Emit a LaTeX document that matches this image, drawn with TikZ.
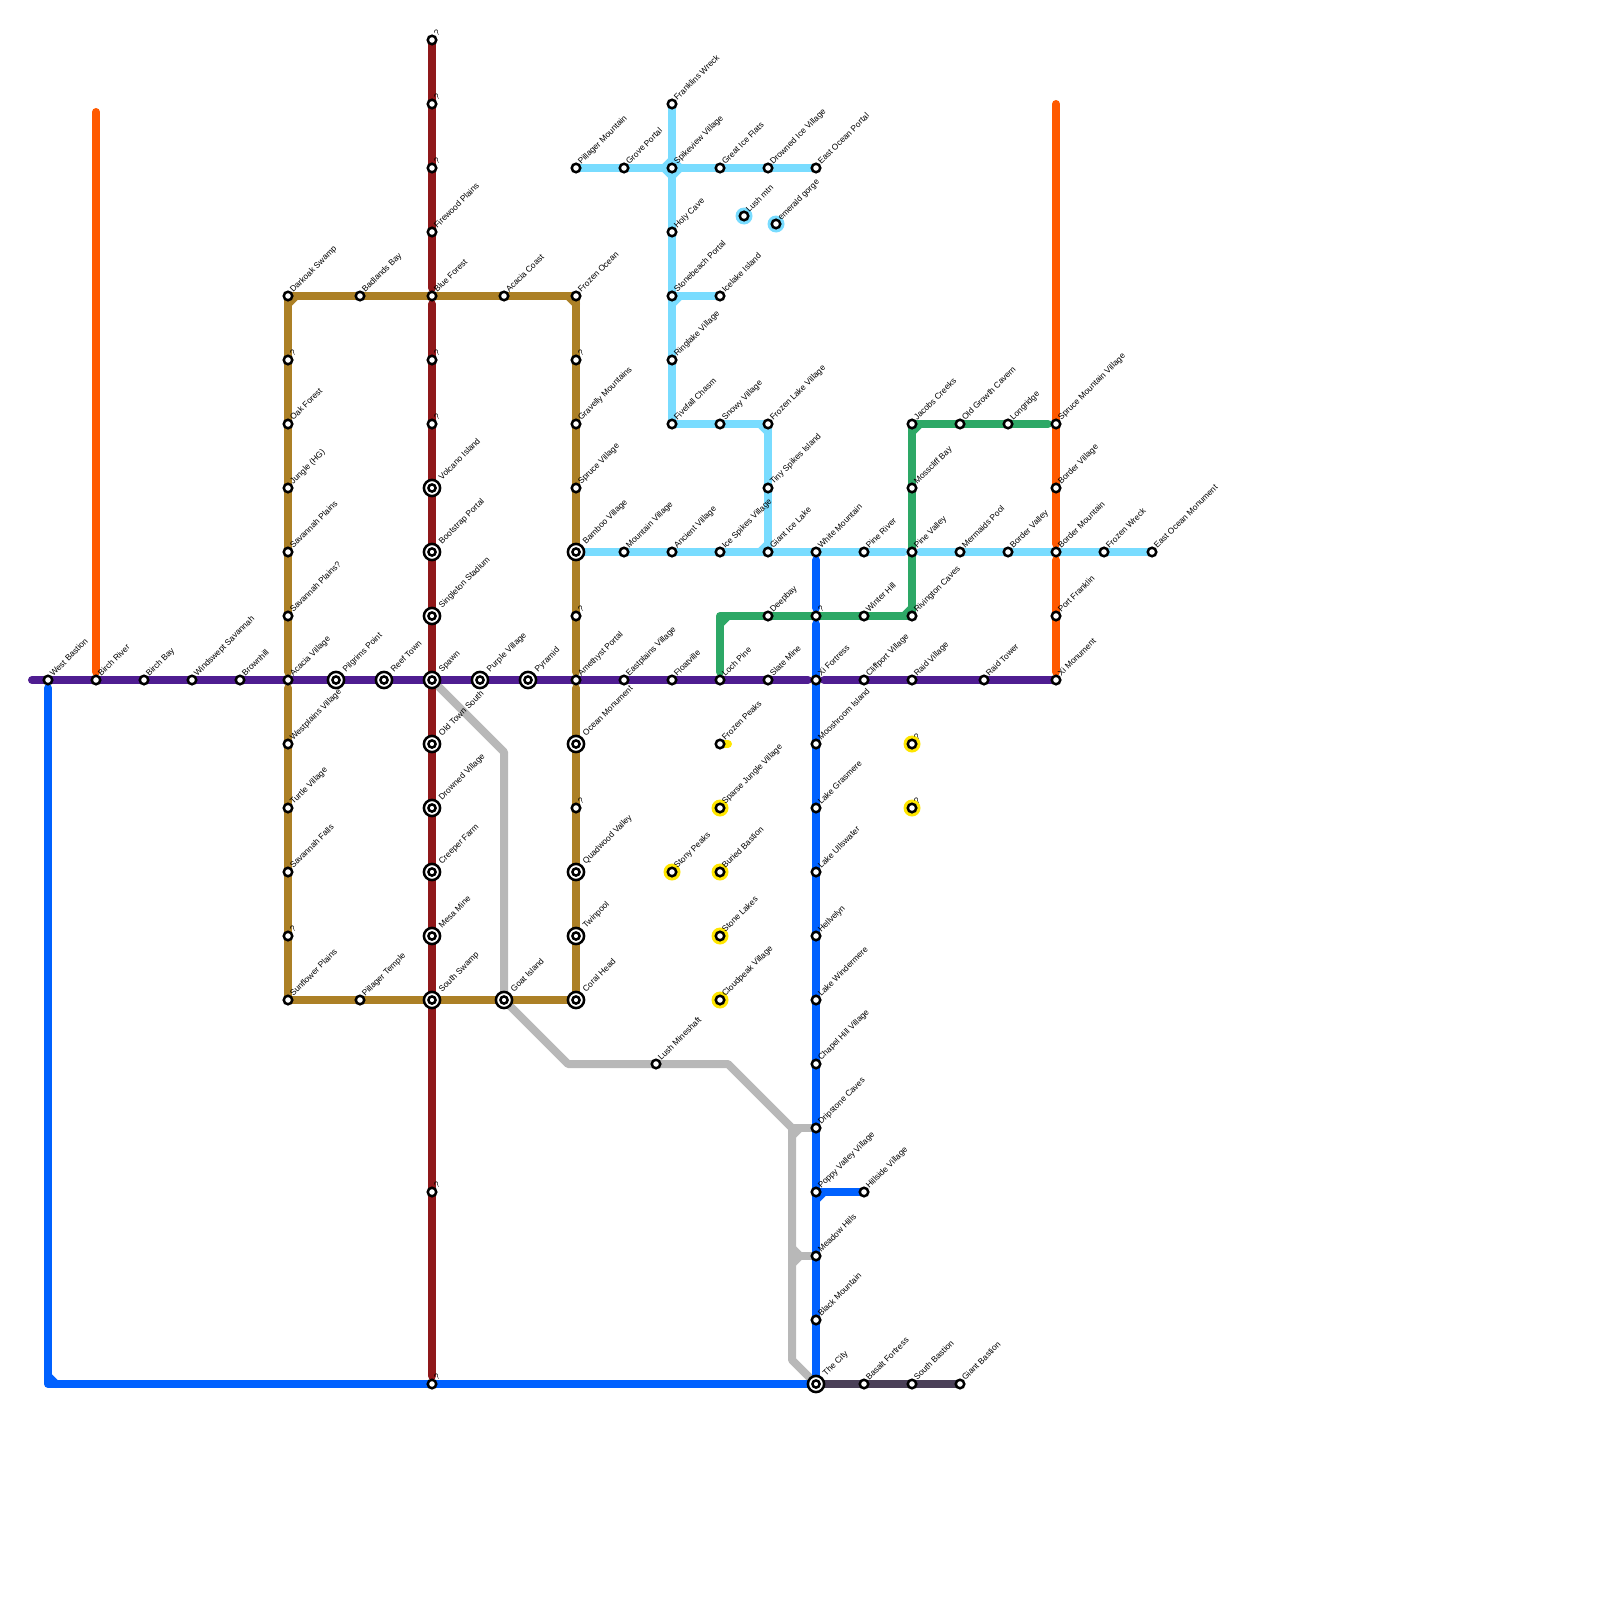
\documentclass[tikz,border=0pt]{standalone}
\usepackage{fontspec}
\setmainfont{Liberation Sans}
\usetikzlibrary{backgrounds}

\definecolor{lnpurple}{RGB}{79,29,145}
\definecolor{lnbrown}{RGB}{172,128,38}
\definecolor{lnred}{RGB}{143,24,26}
\definecolor{lngray}{RGB}{184,184,184}
\definecolor{lnblue}{RGB}{0,97,255}
\definecolor{lnice}{RGB}{121,220,255}
\definecolor{lnorange}{RGB}{255,90,0}
\definecolor{lngreen}{RGB}{45,168,102}
\definecolor{lnyellow}{RGB}{255,230,0}
\definecolor{lnslate}{RGB}{74,64,88}

\tikzset{
  metro/.style={line width=8pt, line cap=round, line join=round},
  stn/.style={circle, draw=black, fill=white, line width=2.5pt, inner sep=0pt, minimum size=8.5pt},
  hub/.style={stn, minimum size=16.2pt, path picture={\draw[line width=2.5pt] (path picture bounding box.center) circle (3.6pt);}},
  stnlab/.style={font=\fontsize{8.4}{10}\selectfont, inner sep=0pt, anchor=base west, xshift=5.3pt, yshift=3pt, rotate=45},
  hublab/.style={font=\fontsize{8.4}{10}\selectfont, inner sep=0pt, anchor=base west, xshift=10pt, yshift=7.5pt, rotate=45}
}

\begin{document}
\begin{tikzpicture}[x=1pt, y=-1pt]
\useasboundingbox (0,0) rectangle (1600,1600);

% red line
\node[stn] (red1) at (432,40) {}; \node[stnlab] (red1t) at (red1) {?};
\node[stn] (red2) at (432,104) {}; \node[stnlab] (red2t) at (red2) {?};
\node[stn] (red3) at (432,168) {}; \node[stnlab] (red3t) at (red3) {?};
\node[stn] (firewood) at (432,232) {}; \node[stnlab] (firewoodt) at (firewood) {Firewood Plains};
\node[stn] (blueforest) at (432,296) {}; \node[stnlab] (blueforestt) at (blueforest) {Blue Forest};
\node[stn] (red4) at (432,360) {}; \node[stnlab] (red4t) at (red4) {?};
\node[stn] (red5) at (432,424) {}; \node[stnlab] (red5t) at (red5) {?};
\node[hub] (volcano) at (432,488) {}; \node[hublab] (volcanot) at (volcano) {Volcano Island};
\node[hub] (bootstrap) at (432,552) {}; \node[hublab] (bootstrapt) at (bootstrap) {Bootstrap Portal};
\node[hub] (singleton) at (432,616) {}; \node[hublab] (singletont) at (singleton) {Singleton Stadium};
\node[hub] (spawn) at (432,680) {}; \node[hublab] (spawnt) at (spawn) {Spawn};
\node[hub] (oldtown) at (432,744) {}; \node[hublab] (oldtownt) at (oldtown) {Old Town South};
\node[hub] (drowned) at (432,808) {}; \node[hublab] (drownedt) at (drowned) {Drowned Village};
\node[hub] (creeper) at (432,872) {}; \node[hublab] (creepert) at (creeper) {Creeper Farm};
\node[hub] (mesa) at (432,936) {}; \node[hublab] (mesat) at (mesa) {Mesa Mine};
\node[hub] (southswamp) at (432,1000) {}; \node[hublab] (southswampt) at (southswamp) {South Swamp};
\node[stn] (red6) at (432,1192) {}; \node[stnlab] (red6t) at (red6) {?};
\node[stn] (red7) at (432,1384) {}; \node[stnlab] (red7t) at (red7) {?};

% brown loop
\node[stn] (darkoak) at (288,296) {}; \node[stnlab] (darkoakt) at (darkoak) {Darkoak Swamp};
\node[stn] (brn1) at (288,360) {}; \node[stnlab] (brn1t) at (brn1) {?};
\node[stn] (oak) at (288,424) {}; \node[stnlab] (oakt) at (oak) {Oak Forest};
\node[stn] (jungle) at (288,488) {}; \node[stnlab] (junglet) at (jungle) {Jungle (HG)};
\node[stn] (savplains) at (288,552) {}; \node[stnlab] (savplainst) at (savplains) {Savannah Plains};
\node[stn] (savplainsq) at (288,616) {}; \node[stnlab] (savplainsqt) at (savplainsq) {Savannah Plains?};
\node[stn] (acacia) at (288,680) {}; \node[stnlab] (acaciat) at (acacia) {Acacia Village};
\node[stn] (westplains) at (288,744) {}; \node[stnlab] (westplainst) at (westplains) {Westplains Village};
\node[stn] (turtle) at (288,808) {}; \node[stnlab] (turtlet) at (turtle) {Turtle Village};
\node[stn] (savfalls) at (288,872) {}; \node[stnlab] (savfallst) at (savfalls) {Savannah Falls};
\node[stn] (brn2) at (288,936) {}; \node[stnlab] (brn2t) at (brn2) {?};
\node[stn] (sunflower) at (288,1000) {}; \node[stnlab] (sunflowert) at (sunflower) {Sunflower Plains};
\node[stn] (badlands) at (360,296) {}; \node[stnlab] (badlandst) at (badlands) {Badlands Bay};
\node[stn] (acaciacoast) at (504,296) {}; \node[stnlab] (acaciacoastt) at (acaciacoast) {Acacia Coast};
\node[stn] (frozenocean) at (576,296) {}; \node[stnlab] (frozenoceant) at (frozenocean) {Frozen Ocean};
\node[stn] (brn3) at (576,360) {}; \node[stnlab] (brn3t) at (brn3) {?};
\node[stn] (gravelly) at (576,424) {}; \node[stnlab] (gravellyt) at (gravelly) {Gravelly Mountains};
\node[stn] (spruce) at (576,488) {}; \node[stnlab] (sprucet) at (spruce) {Spruce Village};
\node[hub] (bamboo) at (576,552) {}; \node[hublab] (bamboot) at (bamboo) {Bamboo Village};
\node[stn] (brn4) at (576,616) {}; \node[stnlab] (brn4t) at (brn4) {?};
\node[stn] (amethyst) at (576,680) {}; \node[stnlab] (amethystt) at (amethyst) {Amethyst Portal};
\node[hub] (oceanmon) at (576,744) {}; \node[hublab] (oceanmont) at (oceanmon) {Ocean Monument};
\node[stn] (brn5) at (576,808) {}; \node[stnlab] (brn5t) at (brn5) {?};
\node[hub] (quadwood) at (576,872) {}; \node[hublab] (quadwoodt) at (quadwood) {Quadwood Valley};
\node[hub] (twinpool) at (576,936) {}; \node[hublab] (twinpoolt) at (twinpool) {Twinpool};
\node[hub] (coralhead) at (576,1000) {}; \node[hublab] (coralheadt) at (coralhead) {Coral Head};
\node[stn] (pillagertemple) at (360,1000) {}; \node[stnlab] (pillagertemplet) at (pillagertemple) {Pillager Temple};
\node[hub] (goat) at (504,1000) {}; \node[hublab] (goatt) at (goat) {Goat Island};

% purple line
\node[stn] (westbastion) at (48,680) {}; \node[stnlab] (westbastiont) at (westbastion) {West Bastion};
\node[stn] (birchriver) at (96,680) {}; \node[stnlab] (birchrivert) at (birchriver) {Birch River};
\node[stn] (birchbay) at (144,680) {}; \node[stnlab] (birchbayt) at (birchbay) {Birch Bay};
\node[stn] (windswept) at (192,680) {}; \node[stnlab] (windsweptt) at (windswept) {Windswept Savannah};
\node[stn] (brownhill) at (240,680) {}; \node[stnlab] (brownhillt) at (brownhill) {Brownhill};
\node[hub] (pilgrims) at (336,680) {}; \node[hublab] (pilgrimst) at (pilgrims) {Pilgrims Point};
\node[hub] (reeftown) at (384,680) {}; \node[hublab] (reeftownt) at (reeftown) {Reef Town};
\node[hub] (purplevillage) at (480,680) {}; \node[hublab] (purplevillaget) at (purplevillage) {Purple Village};
\node[hub] (pyramid) at (528,680) {}; \node[hublab] (pyramidt) at (pyramid) {Pyramid};
\node[stn] (eastplains) at (624,680) {}; \node[stnlab] (eastplainst) at (eastplains) {Eastplains Village};
\node[stn] (floatville) at (672,680) {}; \node[stnlab] (floatvillet) at (floatville) {Floatville};
\node[stn] (lochpine) at (720,680) {}; \node[stnlab] (lochpinet) at (lochpine) {Loch Pine};
\node[stn] (slatemine) at (768,680) {}; \node[stnlab] (slateminet) at (slatemine) {Slate Mine};
\node[stn] (xifortress) at (816,680) {}; \node[stnlab] (xifortresst) at (xifortress) {Xi Fortress};
\node[stn] (cliffport) at (864,680) {}; \node[stnlab] (cliffportt) at (cliffport) {Cliffport Village};
\node[stn] (raidvillage) at (912,680) {}; \node[stnlab] (raidvillaget) at (raidvillage) {Raid Village};
\node[stn] (raidtower) at (984,680) {}; \node[stnlab] (raidtowert) at (raidtower) {Raid Tower};
\node[stn] (ximonument) at (1056,680) {}; \node[stnlab] (ximonumentt) at (ximonument) {Xi Monument};

% ice line
\node[stn] (pillagermtn) at (576,168) {}; \node[stnlab] (pillagermtnt) at (pillagermtn) {Pillager Mountain};
\node[stn] (grove) at (624,168) {}; \node[stnlab] (grovet) at (grove) {Grove Portal};
\node[stn] (spikeview) at (672,168) {}; \node[stnlab] (spikeviewt) at (spikeview) {Spikeview Village};
\node[stn] (greatice) at (720,168) {}; \node[stnlab] (greaticet) at (greatice) {Great Ice Flats};
\node[stn] (drownedice) at (768,168) {}; \node[stnlab] (drownedicet) at (drownedice) {Drowned Ice Village};
\node[stn] (eastportal) at (816,168) {}; \node[stnlab] (eastportalt) at (eastportal) {East Ocean Portal};
\node[stn] (franklins) at (672,104) {}; \node[stnlab] (franklinst) at (franklins) {Franklins Wreck};
\node[stn] (holycave) at (672,232) {}; \node[stnlab] (holycavet) at (holycave) {Holy Cave};
\node[stn] (stonebeach) at (672,296) {}; \node[stnlab] (stonebeacht) at (stonebeach) {Stonebeach Portal};
\node[stn] (icelake) at (720,296) {}; \node[stnlab] (icelaket) at (icelake) {Icelake Island};
\node[stn] (ringlake) at (672,360) {}; \node[stnlab] (ringlaket) at (ringlake) {Ringlake Village};
\node[stn] (fivefall) at (672,424) {}; \node[stnlab] (fivefallt) at (fivefall) {Fivefall Chasm};
\node[stn] (snowy) at (720,424) {}; \node[stnlab] (snowyt) at (snowy) {Snowy Village};
\node[stn] (frozenlake) at (768,424) {}; \node[stnlab] (frozenlaket) at (frozenlake) {Frozen Lake Village};
\node[stn] (tinyspikes) at (768,488) {}; \node[stnlab] (tinyspikest) at (tinyspikes) {Tiny Spikes Island};
\node[stn] (mountainv) at (624,552) {}; \node[stnlab] (mountainvt) at (mountainv) {Mountain Village};
\node[stn] (ancient) at (672,552) {}; \node[stnlab] (ancientt) at (ancient) {Ancient Village};
\node[stn] (icespikes) at (720,552) {}; \node[stnlab] (icespikest) at (icespikes) {Ice Spikes Village};
\node[stn] (giantice) at (768,552) {}; \node[stnlab] (gianticet) at (giantice) {Giant Ice Lake};
\node[stn] (whitemtn) at (816,552) {}; \node[stnlab] (whitemtnt) at (whitemtn) {White Mountain};
\node[stn] (pineriver) at (864,552) {}; \node[stnlab] (pinerivert) at (pineriver) {Pine River};
\node[stn] (pinevalley) at (912,552) {}; \node[stnlab] (pinevalleyt) at (pinevalley) {Pine Valley};
\node[stn] (mermaids) at (960,552) {}; \node[stnlab] (mermaidst) at (mermaids) {Mermaids Pool};
\node[stn] (bordervalley) at (1008,552) {}; \node[stnlab] (bordervalleyt) at (bordervalley) {Border Valley};
\node[stn] (bordermtn) at (1056,552) {}; \node[stnlab] (bordermtnt) at (bordermtn) {Border Mountain};
\node[stn] (frozenwreck) at (1104,552) {}; \node[stnlab] (frozenwreckt) at (frozenwreck) {Frozen Wreck};
\node[stn] (eastmonument) at (1152,552) {}; \node[stnlab] (eastmonumentt) at (eastmonument) {East Ocean Monument};
\node[stn] (lushmtn) at (744,216) {}; \node[stnlab] (lushmtnt) at (lushmtn) {Lush mtn};
\node[stn] (emerald) at (776,224) {}; \node[stnlab] (emeraldt) at (emerald) {emerald gorge};

% green line
\node[stn] (jacobs) at (912,424) {}; \node[stnlab] (jacobst) at (jacobs) {Jacobs Creeks};
\node[stn] (oldgrowth) at (960,424) {}; \node[stnlab] (oldgrowtht) at (oldgrowth) {Old Growth Cavern};
\node[stn] (longridge) at (1008,424) {}; \node[stnlab] (longridget) at (longridge) {Longridge};
\node[stn] (sprucemtn) at (1056,424) {}; \node[stnlab] (sprucemtnt) at (sprucemtn) {Spruce Mountain Village};
\node[stn] (mosscliff) at (912,488) {}; \node[stnlab] (mossclifft) at (mosscliff) {Mosscliff Bay};
\node[stn] (rivington) at (912,616) {}; \node[stnlab] (rivingtont) at (rivington) {Rivington Caves};
\node[stn] (winterhill) at (864,616) {}; \node[stnlab] (winterhillt) at (winterhill) {Winter Hill};
\node[stn] (grn1) at (816,616) {}; \node[stnlab] (grn1t) at (grn1) {?};
\node[stn] (deepbay) at (768,616) {}; \node[stnlab] (deepbayt) at (deepbay) {Deepbay};

% orange line
\node[stn] (bordervillage) at (1056,488) {}; \node[stnlab] (bordervillaget) at (bordervillage) {Border Village};
\node[stn] (portfranklin) at (1056,616) {}; \node[stnlab] (portfranklint) at (portfranklin) {Port Franklin};

% blue line
\node[stn] (mooshroom) at (816,744) {}; \node[stnlab] (mooshroomt) at (mooshroom) {Mooshroom Island};
\node[stn] (grasmere) at (816,808) {}; \node[stnlab] (grasmeret) at (grasmere) {Lake Grasmere};
\node[stn] (ullswater) at (816,872) {}; \node[stnlab] (ullswatert) at (ullswater) {Lake Ullswater};
\node[stn] (hellvelyn) at (816,936) {}; \node[stnlab] (hellvelynt) at (hellvelyn) {Hellvelyn};
\node[stn] (windermere) at (816,1000) {}; \node[stnlab] (windermeret) at (windermere) {Lake Windermere};
\node[stn] (chapelhill) at (816,1064) {}; \node[stnlab] (chapelhillt) at (chapelhill) {Chapel Hill Village};
\node[stn] (dripstone) at (816,1128) {}; \node[stnlab] (dripstonet) at (dripstone) {Dripstone Caves};
\node[stn] (poppy) at (816,1192) {}; \node[stnlab] (poppyt) at (poppy) {Poppy Valley Village};
\node[stn] (hillside) at (864,1192) {}; \node[stnlab] (hillsidet) at (hillside) {Hillside Village};
\node[stn] (meadow) at (816,1256) {}; \node[stnlab] (meadowt) at (meadow) {Meadow Hills};
\node[stn] (blackmtn) at (816,1320) {}; \node[stnlab] (blackmtnt) at (blackmtn) {Black Mountain};
\node[hub] (thecity) at (816,1384) {}; \node[hublab] (thecityt) at (thecity) {The City};
\node[stn] (basalt) at (864,1384) {}; \node[stnlab] (basaltt) at (basalt) {Basalt Fortress};
\node[stn] (southbastion) at (912,1384) {}; \node[stnlab] (southbastiont) at (southbastion) {South Bastion};
\node[stn] (giantbastion) at (960,1384) {}; \node[stnlab] (giantbastiont) at (giantbastion) {Giant Bastion};
\node[stn] (lushmine) at (656,1064) {}; \node[stnlab] (lushminet) at (lushmine) {Lush Mineshaft};

% yellow stops
\node[stn] (frozenpeaks) at (720,744) {}; \node[stnlab] (frozenpeakst) at (frozenpeaks) {Frozen Peaks};
\node[stn] (sparse) at (720,808) {}; \node[stnlab] (sparset) at (sparse) {Sparse Jungle Village};
\node[stn] (buried) at (720,872) {}; \node[stnlab] (buriedt) at (buried) {Buried Bastion};
\node[stn] (stonelakes) at (720,936) {}; \node[stnlab] (stonelakest) at (stonelakes) {Stone Lakes};
\node[stn] (cloudpeak) at (720,1000) {}; \node[stnlab] (cloudpeakt) at (cloudpeak) {Cloudpeak Village};
\node[stn] (stony) at (672,872) {}; \node[stnlab] (stonyt) at (stony) {Stony Peaks};
\node[stn] (yel1) at (912,744) {}; \node[stnlab] (yel1t) at (yel1) {?};
\node[stn] (yel2) at (912,808) {}; \node[stnlab] (yel2t) at (yel2) {?};

\coordinate (purpleend) at (32,680);
\coordinate (orangetop) at (96,112);
\coordinate (orangetopb) at (1056,104);
\coordinate (bluecorner) at (48,1384);
\coordinate (grayA) at (504,752);
\coordinate (grayB) at (568,1064);
\coordinate (grayC) at (728,1064);
\coordinate (grayD) at (792,1128);
\coordinate (grayE) at (792,1360);
\coordinate (grayF) at (792,1256);
\coordinate (greencorner) at (720,616);
\coordinate (yellowend) at (728,744);

\begin{scope}[on background layer]
\draw[metro, lngray] (spawn.center)--(grayA)--(goat.center)--(grayB)--(grayC)--(grayD)--(grayE)--(thecity.center);
\draw[metro, lngray] (grayD)--(dripstone.center); \draw[metro, lngray] (grayF)--(meadow.center);
\draw[metro, lngray] ([yshift=-8pt]grayD)--([xshift=8pt]grayD);
\draw[metro, lngray] ([yshift=8pt]grayF)--([xshift=8pt]grayF)--([yshift=-8pt]grayF);

\draw[metro, lnblue, shorten <=8pt] (westbastion.center)--(bluecorner)--(thecity.center);
\draw[metro, lnblue] ([yshift=8pt]bluecorner)--([xshift=8pt]bluecorner);
\draw[metro, lnblue, shorten <=8pt, shorten >=8pt] (whitemtn.center)--(grn1.center);
\draw[metro, lnblue, shorten <=8pt] (grn1.center)--(thecity.center);
\draw[metro, lnblue] (poppy.center)--(hillside.center);
\draw[metro, lnblue] ([yshift=-8pt]poppy.center)--([xshift=8pt]poppy.center);

\draw[metro, lnred, shorten >=8pt] (red1.center)--(blueforest.center);
\draw[metro, lnred, shorten <=8pt, shorten >=8pt] (blueforest.center)--(red7.center);

\draw[metro, lnbrown, shorten >=8pt] (darkoak.center)--(acacia.center);
\draw[metro, lnbrown, shorten <=8pt] (acacia.center)--(sunflower.center)--(coralhead.center);
\draw[metro, lnbrown] (darkoak.center)--(frozenocean.center);
\draw[metro, lnbrown, shorten >=8pt] (frozenocean.center)--(amethyst.center);
\draw[metro, lnbrown, shorten <=8pt] (amethyst.center)--(coralhead.center);
\draw[metro, lnbrown] ([yshift=-8pt]darkoak.center)--([xshift=8pt]darkoak.center);
\draw[metro, lnbrown] ([xshift=-8pt]frozenocean.center)--([yshift=-8pt]frozenocean.center);

\draw[metro, lnorange, shorten >=8pt] (orangetop)--(birchriver.center);
\draw[metro, lnorange, shorten >=8pt] (orangetopb)--(bordermtn.center);
\draw[metro, lnorange, shorten <=8pt, shorten >=8pt] (bordermtn.center)--(ximonument.center);

\draw[metro, lngreen, shorten <=8pt, shorten >=8pt] (lochpine.center)--(greencorner)--(rivington.center)--(jacobs.center)--(sprucemtn.center);
\draw[metro, lngreen] ([yshift=-8pt]greencorner)--([xshift=8pt]greencorner);
\draw[metro, lngreen] ([xshift=-8pt]rivington.center)--([yshift=8pt]rivington.center);
\draw[metro, lngreen] ([yshift=-8pt]jacobs.center)--([xshift=8pt]jacobs.center);

\draw[metro, lnice] (franklins.center)--(fivefall.center)--(frozenlake.center)--(giantice.center);
\draw[metro, lnice] (pillagermtn.center)--(eastportal.center);
\draw[metro, lnice] (stonebeach.center)--(icelake.center);
\draw[metro, lnice, shorten >=8pt] (bamboo.center)--(pinevalley.center);
\draw[metro, lnice, shorten <=8pt] (pinevalley.center)--(eastmonument.center);
\draw[metro, lnice] ([xshift=-8pt]spikeview.center)--([yshift=8pt]spikeview.center)--([xshift=8pt]spikeview.center)--([yshift=-8pt]spikeview.center)--cycle;
\draw[metro, lnice] ([yshift=-8pt]stonebeach.center)--([xshift=8pt]stonebeach.center);
\draw[metro, lnice] ([xshift=-8pt]frozenlake.center)--([yshift=-8pt]frozenlake.center);
\draw[metro, lnice] ([xshift=-8pt]giantice.center)--([yshift=8pt]giantice.center);
\fill[lnice] (lushmtn.center) circle (8.5pt); \fill[lnice] (emerald.center) circle (8.5pt);

\draw[metro, lnpurple, shorten >=8pt] (purpleend)--(xifortress.center);
\draw[metro, lnpurple, shorten <=8pt] (xifortress.center)--(ximonument.center);
\draw[metro, lnslate] (thecity.center)--(giantbastion.center);
\draw[metro, lnyellow] (frozenpeaks.center)--(yellowend);
\fill[lnyellow] (sparse.center) circle (8.5pt); \fill[lnyellow] (buried.center) circle (8.5pt);
\fill[lnyellow] (stonelakes.center) circle (8.5pt); \fill[lnyellow] (cloudpeak.center) circle (8.5pt);
\fill[lnyellow] (stony.center) circle (8.5pt);
\fill[lnyellow] (yel1.center) circle (8.5pt); \fill[lnyellow] (yel2.center) circle (8.5pt);
\end{scope}

\end{tikzpicture}
\end{document}
